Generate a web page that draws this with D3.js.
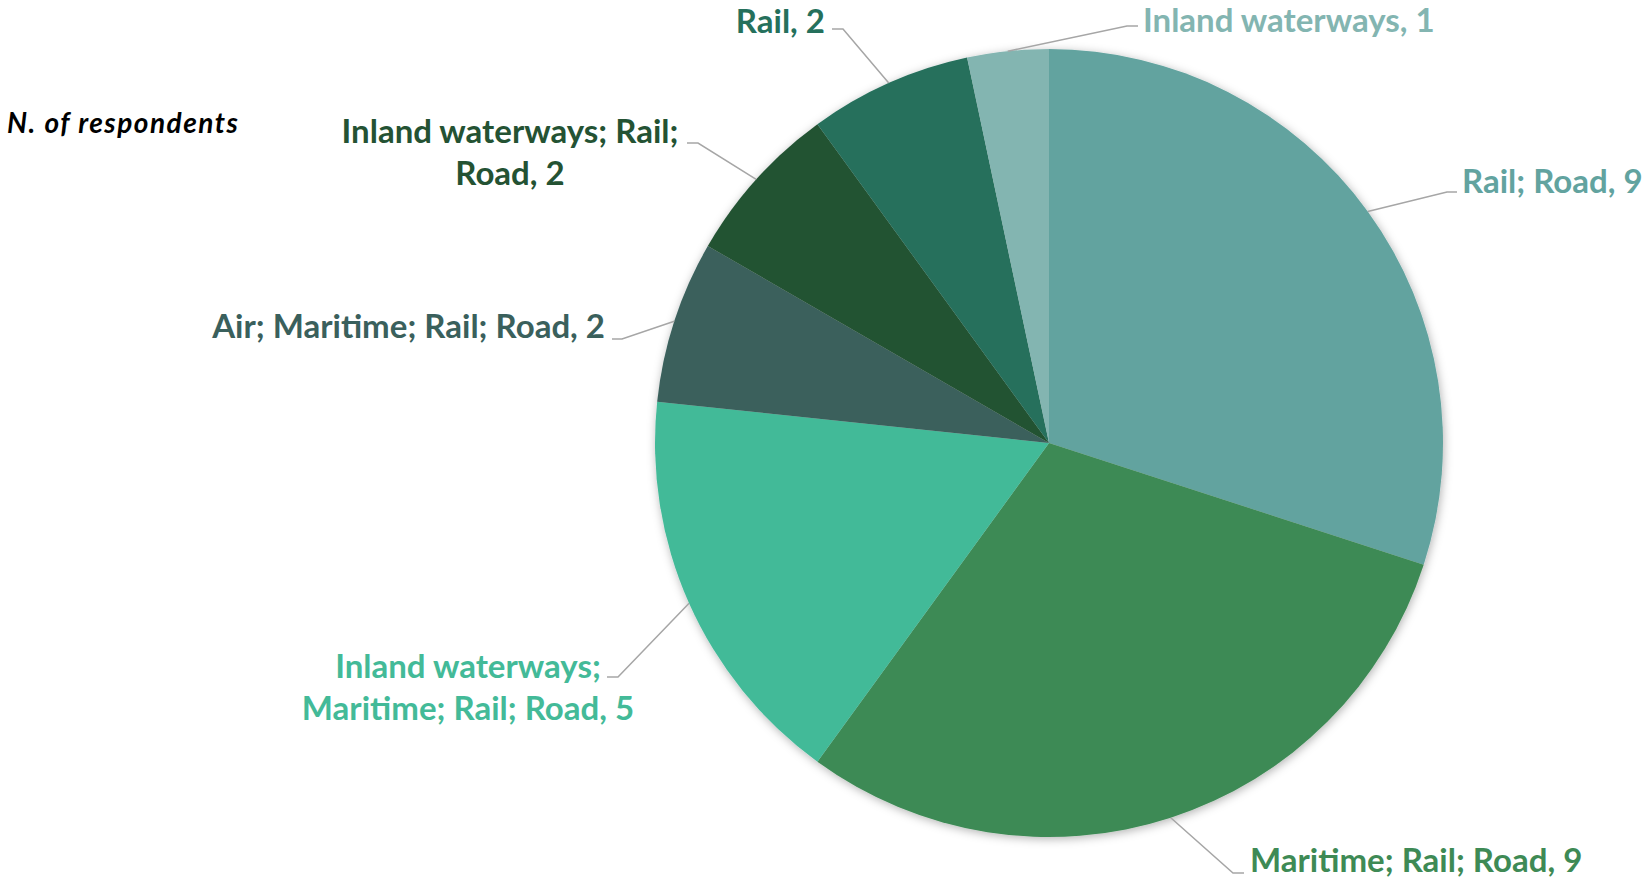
<!DOCTYPE html>
<html>
<head>
<meta charset="utf-8">
<script src="https://cdn.jsdelivr.net/npm/d3@7"></script>
<style>
  body { margin: 0; background: #fff; }
  svg text { font-family: Lato, "Open Sans", sans-serif; font-weight: 700; }
</style>
</head>
<body>
<div id="chart"></div>
<script>
var width = 1644,
  height = 879,
  radius = 394;

// survey answers, clockwise from 12 o'clock
var categories = [
  'Rail; Road',
  'Maritime; Rail; Road',
  'Inland waterways; Maritime; Rail; Road',
  'Air; Maritime; Rail; Road',
  'Inland waterways; Rail; Road',
  'Rail',
  'Inland waterways'
];
var counts = [9, 9, 5, 2, 2, 2, 1];
var colors = ['#62A39F', '#3E8A55', '#43BA98', '#3A605C', '#245233', '#25705C', '#83B5B1'];

// where each label sits (x, baseline y), its anchor, how many words go on line 1,
// and the leader line elbow
var labelPos = [
  {x: 1462, y: 193, anchor: 'start', wrap: 0, ex: 1447, ey: 192, hx: 1457},
  {x: 1250, y: 872, anchor: 'start', wrap: 0, ex: 1233, ey: 873, hx: 1244},
  {x: 468, y: 678, anchor: 'middle', wrap: 2, ex: 618, ey: 677, hx: 607},
  {x: 605, y: 338, anchor: 'end', wrap: 0, ex: 622, ey: 339, hx: 612},
  {x: 510, y: 143, anchor: 'middle', wrap: 3, ex: 698, ey: 143, hx: 687},
  {x: 825, y: 33, anchor: 'end', wrap: 0, ex: 843, ey: 29, hx: 832},
  {x: 1143, y: 32, anchor: 'start', wrap: 0, ex: 1127, ey: 26, hx: 1138}
];

var data = categories.map(function(c, i) {
  return {name: c, value: counts[i], color: colors[i], pos: labelPos[i]};
});

var svg = d3.select('#chart').append('svg')
  .attr('width', width)
  .attr('height', height);

var defs = svg.append('defs');
var shadow = defs.append('filter')
  .attr('id', 'shadow')
  .attr('x', '-10%').attr('y', '-10%')
  .attr('width', '120%').attr('height', '120%');
shadow.append('feDropShadow')
  .attr('dx', 1).attr('dy', 2)
  .attr('stdDeviation', 5)
  .attr('flood-color', '#000')
  .attr('flood-opacity', 0.3);

var cx = 1049, cy = 443;

var pie = d3.pie()
  .sort(null)
  .value(function(d) { return d.value; });

var arc = d3.arc()
  .innerRadius(0)
  .outerRadius(radius);

var arcs = pie(data);

var g = svg.append('g')
  .attr('transform', 'translate(' + cx + ',' + cy + ')');

g.append('g')
  .attr('filter', 'url(#shadow)')
  .selectAll('path')
  .data(arcs)
  .enter().append('path')
  .attr('d', arc)
  .attr('fill', function(d) { return d.data.color; });

// leader lines from the middle of each slice's rim
svg.append('g').selectAll('polyline')
  .data(arcs)
  .enter().append('polyline')
  .attr('fill', 'none')
  .attr('stroke', '#A6A6A6')
  .attr('stroke-width', 1.5)
  .attr('points', function(d) {
    var a = (d.startAngle + d.endAngle) / 2;
    var p = d.data.pos;
    var sx = cx + radius * Math.sin(a),
      sy = cy - radius * Math.cos(a);
    return [[sx, sy], [p.ex, p.ey], [p.hx, p.ey]].join(' ');
  });

var labels = svg.append('g').selectAll('text')
  .data(data)
  .enter().append('text')
  .attr('x', function(d) { return d.pos.x; })
  .attr('y', function(d) { return d.pos.y; })
  .attr('text-anchor', function(d) { return d.pos.anchor; })
  .attr('fill', function(d) { return d.color; })
  .style('font-size', '33px');

labels.each(function(d) {
  var full = d.name + ', ' + d.value;
  var t = d3.select(this);
  if (!d.pos.wrap) {
    t.text(full);
    return;
  }
  var words = full.split(' ');
  var lines = [words.slice(0, d.pos.wrap).join(' '), words.slice(d.pos.wrap).join(' ')];
  lines.forEach(function(l, i) {
    t.append('tspan')
      .attr('x', d.pos.x)
      .attr('dy', i ? 42 : 0)
      .text(l);
  });
});

svg.append('text')
  .attr('x', 7)
  .attr('y', 133)
  .style('font-size', '28px')
  .style('font-style', 'italic')
  .style('letter-spacing', '1.5px')
  .attr('fill', '#000')
  .text('N. of respondents');
</script>
</body>
</html>
